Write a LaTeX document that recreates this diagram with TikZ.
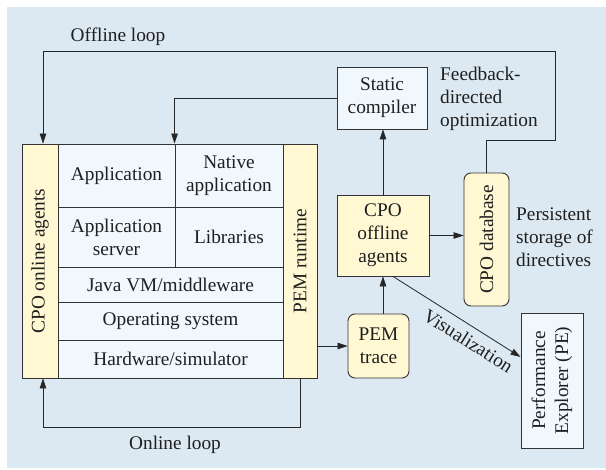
\documentclass[tikz,border=0pt]{standalone}
\usepackage{fontspec}
\setmainfont{Liberation Serif}
\usetikzlibrary{arrows.meta,calc}
\definecolor{bgcol}{HTML}{DDE9F2}
\definecolor{yelcol}{HTML}{FFF8D3}
\definecolor{cellcol}{HTML}{F0F8FE}
\definecolor{lncol}{HTML}{333333}
\begin{document}
\begin{tikzpicture}[x=1pt,y=-1pt,
  every node/.style={font=\fontsize{19.3}{23}\selectfont, text=black!88},
  box/.style={draw=lncol, line width=0.9pt, inner sep=0pt, align=center},
  ybox/.style={box, fill=yelcol},
  cbox/.style={box, fill=cellcol},
  rbox/.style={ybox, rounded corners=7pt},
  arr/.style={draw=black!85, line width=0.8pt, -{Triangle[length=10pt,width=6.5pt]}},
  lbl/.style={inner sep=0pt, align=left},
  vlabel/.style={rotate=90, align=center, inner sep=0pt}]
\useasboundingbox (0,0) rectangle (606,470);
\fill[bgcol] (7,7) rectangle (606,468);

% main stack
\node[ybox, minimum width=36pt, minimum height=234pt, label={[vlabel]center:CPO online agents}] (online) at (40,261) {};
\node[cbox, minimum width=117pt, minimum height=63pt] (app) at (116.5,175.5) {Application};
\node[cbox, minimum width=108pt, minimum height=63pt] (native) at (229,175.5) {Native\\application};
\node[cbox, minimum width=117pt, minimum height=60pt] (appserver) at (116.5,237) {Application\\server};
\node[cbox, minimum width=108pt, minimum height=60pt] (libs) at (229,237) {Libraries};
\node[cbox, minimum width=225pt, minimum height=35pt] (jvm) at (170.5,284.5) {Java VM/middleware};
\node[cbox, minimum width=225pt, minimum height=38pt] (os) at (170.5,321) {Operating system};
\node[cbox, minimum width=225pt, minimum height=38pt] (hw) at (170.5,359) {Hardware/simulator};
\node[ybox, minimum width=34pt, minimum height=234pt, label={[vlabel]center:PEM runtime}] (pemrt) at (300,261) {};

% right side
\node[cbox, minimum width=90pt, minimum height=62pt] (static) at (382,98) {Static\\compiler};
\node[ybox, minimum width=92pt, minimum height=81pt] (offline) at (383,235.5) {CPO\\offline\\agents};
\node[rbox, minimum width=45pt, minimum height=133pt, label={[vlabel]center:CPO database}] (db) at (486.5,239.5) {};
\node[rbox, minimum width=61pt, minimum height=64pt] (pemtrace) at (378.5,346) {PEM\\trace};
\node[cbox, minimum width=62pt, minimum height=135pt, label={[vlabel]center:Performance\\Explorer (PE)}] (pe) at (552,380.5) {};

% labels
\node[lbl, anchor=base] (offlbl) at (118,41.5) {Offline loop};
\node[lbl, anchor=base] (onlbl) at (175,450) {Online loop};
\node[lbl, anchor=west] (fdo) at (440,99) {Feedback-\\directed\\optimization};
\node[lbl, anchor=west] (pers) at (516,237) {Persistent\\storage of\\directives};

% connectors
\draw[arr] (db.north) -- ++(0,-32) -| (555,51) -| ([xshift=3pt]online.north);
\draw[arr] (static.west) -| (native.north west);
\draw[arr] (offline.north) -- (offline.north |- static.south);
\draw[arr] (offline.east) -- (offline.east -| db.west);
\draw[arr] (pemtrace.west -| pemrt.east) -- (pemtrace.west);
\draw[arr] (offline.south |- pemtrace.north) -- (offline.south);
\draw[arr] ([xshift=10pt]offline.south) -- ([yshift=23.5pt]pe.west)
  node[pos=0.65, sloped, below=7pt, inner sep=0pt] (vis) {Visualization};
\draw[arr] (pemrt.south) -- ++(0,49) -| ([xshift=3pt]online.south);
\end{tikzpicture}
\end{document}
